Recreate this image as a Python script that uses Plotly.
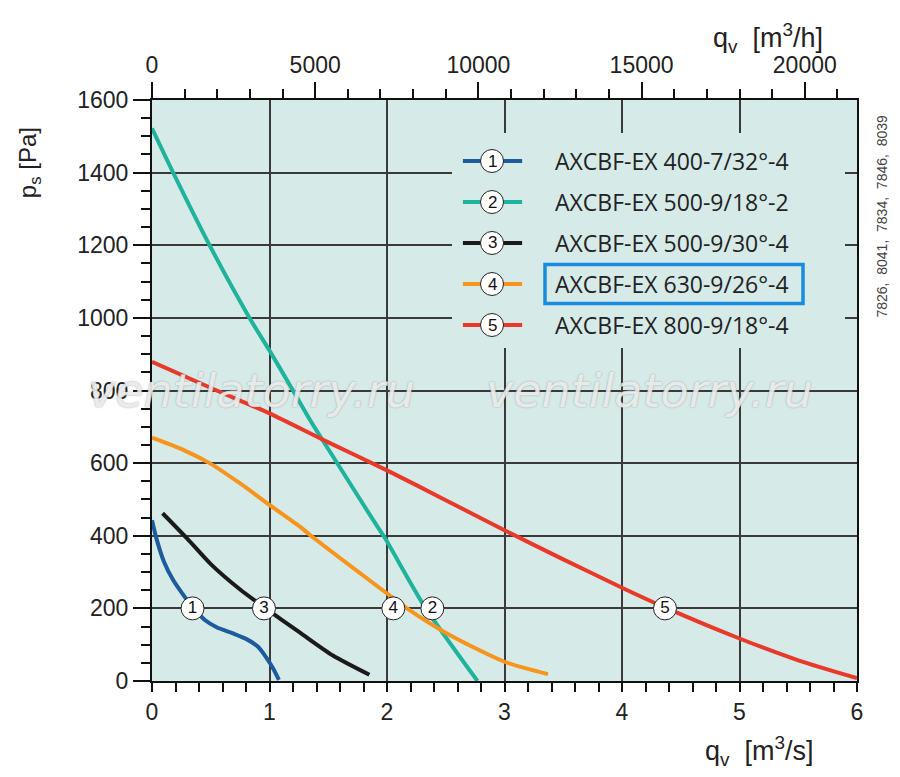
import plotly.graph_objects as go

# fan curves, q in m3/s, p in Pa
q1 = [0.0, 0.04, 0.1, 0.18, 0.26, 0.35, 0.45, 0.55, 0.69, 0.8, 0.9, 0.97, 1.03, 1.08]
p1 = [443, 390, 330, 278, 240, 202, 168, 148, 131, 116, 95, 66, 35, 3]

q2 = [0.0, 0.18, 0.49, 0.83, 1.0, 1.2, 1.345, 1.574, 1.883, 1.98, 2.32, 2.77]
p2 = [1522, 1400, 1200, 1000, 910, 800, 719, 601, 443, 395, 205, 0]

q3 = [0.09, 0.3, 0.5, 0.75, 0.95, 1.26, 1.54, 1.85]
p3 = [462, 392, 322, 252, 204, 133, 70, 17]

q4 = [0.0, 0.27, 0.49, 0.75, 1.0, 1.26, 1.345, 2.0, 2.17, 2.51, 3.0, 3.37]
p4 = [670, 636, 600, 544, 485, 425, 402, 241, 200, 131, 53, 19]

q5 = [0.0, 0.55, 1.0, 1.47, 2.0, 2.5, 3.0, 3.5, 4.0, 4.37, 5.0, 5.5, 6.0]
p5 = [879, 800, 737, 662, 580, 498, 415, 335, 257, 202, 117, 57, 8]

names = ["AXCBF-EX 400-7/32°-4", "AXCBF-EX 500-9/18°-2", "AXCBF-EX 500-9/30°-4",
         "AXCBF-EX 630-9/26°-4", "AXCBF-EX 800-9/18°-4"]
colors = ["#1c5c9e", "#1fb39e", "#1a1a1a", "#f7941d", "#e8392b"]

# circled numbers on the curves
lab_q = [0.345, 2.386, 0.953, 2.054, 4.366]
lab_p = [200, 200, 200, 200, 200]
lab_txt = ["1", "2", "3", "4", "5"]

bg = "#d6ebe7"
tickfont = dict(family="Liberation Sans", size=23, color="#222")

fig = go.Figure()
for q, p, c in zip([q1, q2, q3, q4, q5], [p1, p2, p3, p4, p5], colors):
    fig.add_trace(go.Scatter(x=q, y=p, mode="lines",
                             line=dict(color=c, width=4, shape="spline", smoothing=0.7),
                             hoverinfo="skip", showlegend=False))

fig.add_trace(go.Scatter(x=lab_q, y=lab_p, mode="markers+text", text=lab_txt,
                         textposition="middle center",
                         textfont=dict(family="Liberation Sans", size=17, color="#111"),
                         marker=dict(size=23, color="white", line=dict(color="#222", width=1)),
                         hoverinfo="skip", showlegend=False))

# dummy trace so the m3/h axis is drawn
fig.add_trace(go.Scatter(x=[v * 3600 for v in q5], y=p5, xaxis="x2", mode="lines",
                         line=dict(width=0), hoverinfo="skip", showlegend=False))

# legend drawn by hand
shapes = [dict(type="rect", xref="paper", yref="paper", x0=0.4255, x1=0.983, y0=0.573, y1=0.943,
               fillcolor=bg, line=dict(width=0), layer="above")]
annos = []
rows = [0.895, 0.8244, 0.7539, 0.6833, 0.6127]
for i, yy in enumerate(rows):
    shapes.append(dict(type="line", xref="paper", yref="paper", x0=0.441, x1=0.525, y0=yy, y1=yy,
                       line=dict(color=colors[i], width=4), layer="above"))
    shapes.append(dict(type="circle", xref="paper", yref="paper", xsizemode="pixel", ysizemode="pixel",
                       xanchor=0.4823, yanchor=yy, x0=-11.5, x1=11.5, y0=-11.5, y1=11.5,
                       fillcolor="white", line=dict(color="#222", width=1), layer="above"))
    annos.append(dict(text=lab_txt[i], xref="paper", yref="paper", x=0.4823, y=yy,
                      xanchor="center", yanchor="middle", showarrow=False,
                      font=dict(family="Liberation Sans", size=17, color="#111")))
    annos.append(dict(text=names[i], xref="paper", yref="paper", x=0.5688, y=yy,
                      xanchor="left", yanchor="middle", showarrow=False,
                      font=dict(family="Open Sans", size=23, color="#222")))

shapes.append(dict(type="rect", xref="paper", yref="paper", x0=(545 - 152) / 705, x1=(803 - 152) / 705,
                   y0=(681 - 303.5) / 581, y1=(681 - 264.5) / 581,
                   line=dict(color="#1a8ce0", width=3.5), layer="above"))

# axis titles and side notes
annos += [
    dict(text="p<sub>s</sub> [Pa]", xref="paper", yref="paper", x=-0.1745, y=0.893, textangle=-90,
         xanchor="center", yanchor="middle", showarrow=False,
         font=dict(family="Liberation Sans", size=24, color="#222")),
    dict(text="q<sub>v</sub>&nbsp;&nbsp;[m<sup>3</sup>/s]", xref="paper", yref="paper", x=0.862, y=-0.121,
         xanchor="center", yanchor="middle", showarrow=False,
         font=dict(family="Liberation Sans", size=27, color="#222")),
    dict(text="q<sub>v</sub>&nbsp;&nbsp;[m<sup>3</sup>/h]", xref="paper", yref="paper", x=0.874, y=1.107,
         xanchor="center", yanchor="middle", showarrow=False,
         font=dict(family="Liberation Sans", size=27, color="#222")),
    dict(text="7826,  8041,  7834,  7846,  8039", xref="paper", yref="paper", x=1.036, y=0.8,
         xanchor="center", yanchor="middle", textangle=-90, showarrow=False,
         font=dict(family="Liberation Sans", size=14, color="#444")),
]
for xx in [0.141, 0.706]:
    annos.append(dict(text="ventilatorry.ru", xref="paper", yref="paper", x=xx, y=0.5,
                      xanchor="center", yanchor="middle", showarrow=False,
                      font=dict(family="DejaVu Sans", size=46, style="italic",
                                color="rgba(255,255,255,0.6)",
                                shadow="0px 0px 1px #ffffff, 0px 0px 1.5px rgba(50,50,50,1)")))

# page body has an 8px margin, so the figure is 8px smaller than the window
fig.update_layout(
    width=892, height=769,
    margin=dict(l=144, r=43, t=92, b=96),
    paper_bgcolor="white", plot_bgcolor=bg,
    showlegend=False,
    xaxis=dict(range=[0, 6], dtick=1, tick0=0, showgrid=True, gridcolor="#3a3a3a", gridwidth=1.5,
               zeroline=False, showline=True, linecolor="#111", linewidth=2, automargin=False,
               ticks="outside", ticklen=9, tickwidth=1.5, tickcolor="#111",
               minor=dict(dtick=0.2, ticks="outside", ticklen=9, tickwidth=1.5, tickcolor="#111", showgrid=False),
               tickfont=tickfont),
    xaxis2=dict(overlaying="x", side="top", range=[0, 21600], dtick=5000, tick0=0, showgrid=False,
                zeroline=False, showline=True, linecolor="#111", linewidth=2, automargin=False,
                tickformat="d", exponentformat="none",
                ticks="outside", ticklen=16, tickwidth=1.5, tickcolor="#111",
                minor=dict(dtick=1000, ticks="outside", ticklen=9, tickwidth=1.5, tickcolor="#111"),
                tickfont=tickfont),
    yaxis=dict(range=[0, 1600], dtick=200, tick0=0, showgrid=True, gridcolor="#3a3a3a", gridwidth=1.5,
               zeroline=False, showline=True, mirror=True, linecolor="#111", linewidth=2, automargin=False,
               ticks="outside", ticklen=17, tickwidth=1.5, tickcolor="#111",
               minor=dict(dtick=50, ticks="outside", ticklen=9, tickwidth=1.5, tickcolor="#111", showgrid=False),
               tickfont=tickfont),
    shapes=shapes,
    annotations=annos,
)

fig.write_html("out.html")
